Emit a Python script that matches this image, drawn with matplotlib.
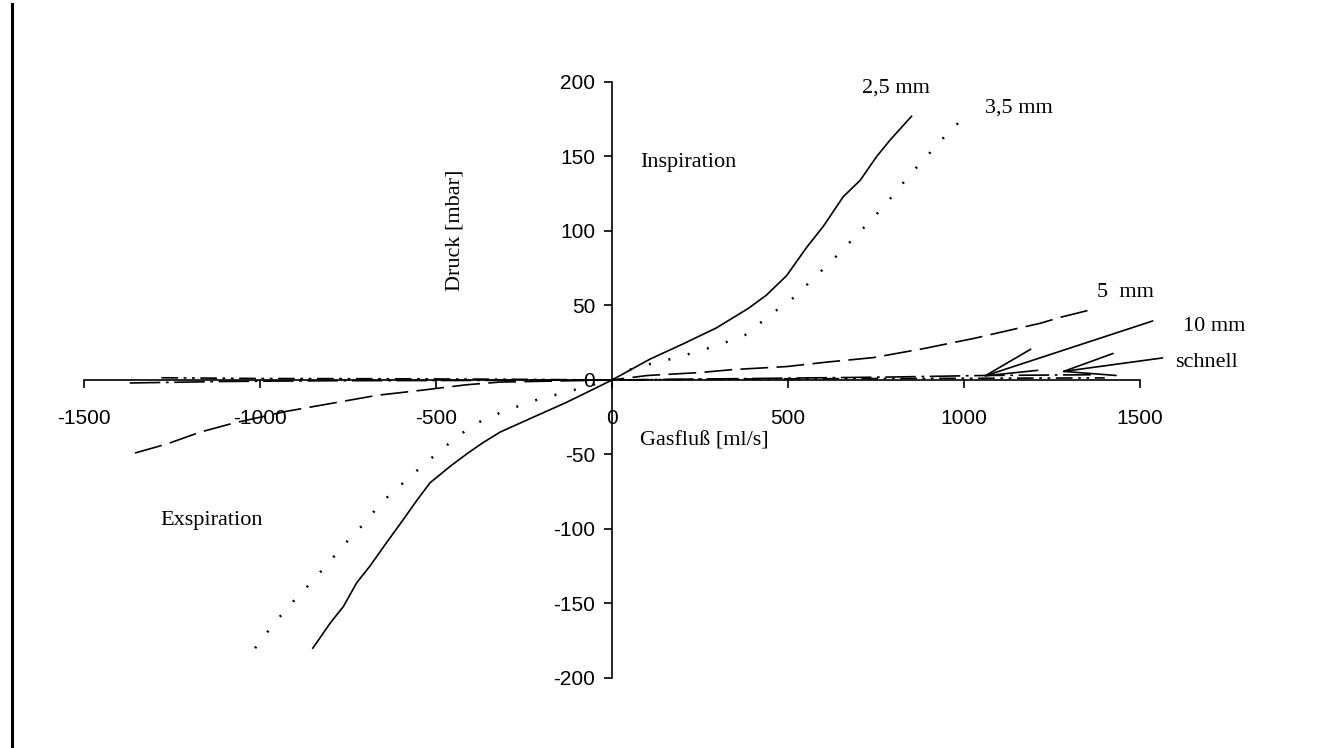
"""
Druck-Fluss-Kennlinien verschiedener Tubusdurchmesser.
"""

import matplotlib
matplotlib.use("Agg")
import matplotlib.pyplot as plt
from matplotlib.lines import Line2D

plt.rcParams['lines.scale_dashes'] = False
plt.rcParams['axes.unicode_minus'] = False

# Messreihen: Gasfluss [ml/s] gegen Druck [mbar]
flow_25 = [-850, -800, -763, -725, -688, -640, -600, -555, -517, -460, -409, -366, -318, -224, -129, -34, 0,
           108, 200, 297, 387, 439, 496, 553, 600, 657, 705, 752, 790, 851]
p_25 = [-180, -163, -152, -136, -125, -109, -96, -81, -69, -58, -49, -42, -35, -25, -15, -4, 0,
        14, 24, 35, 48, 57, 70, 89, 103, 123, 134, 150, 161, 177]

flow_35 = [-1014, -962, -915, -863, -810, -759, -707, -654, -593, -526, -460, -394, -318, -224, -129, -34, 0,
           60, 184, 297, 387, 439, 510, 572, 633, 690, 747, 795, 847, 894, 951, 1008]
p_35 = [-180, -164, -151, -138, -124, -110, -97, -82, -69, -55, -42, -30, -22, -14, -8, -2, 0,
        8, 15, 23, 31, 42, 54, 68, 82, 96, 110, 123, 138, 150, 165, 178]

flow_5 = [-1355, -1265, -1170, -1076, -924, -792, -668, -545, -413, -318, 0,
          100, 250, 345, 496, 610, 742, 884, 1030, 1159, 1216, 1273, 1358]
p_5 = [-49, -43, -35, -29, -21, -15.5, -10.3, -7, -3.2, -1.4, 0,
       3, 5, 7, 9, 12, 15, 21, 28, 35, 38, 42, 47]

flow_10 = [-1370, -1100, -800, -400, 0, 400, 800, 1050, 1360]
p_10 = [-2, -1, -0.5, -0.3, 0, 1, 2, 3, 3.5]

flow_fast = [-1280, -1000, -600, -300, 0, 400, 800, 1100, 1400]
p_fast = [1.5, 1, 0.8, 0.5, 0, 0.7, 1, 1.2, 1.4]

x_ticks = [-1500, -1000, -500, 0, 500, 1000, 1500]
x_ticklabels = ['-1500', '-1000', '-500', '0', '500', '1000', '1500']
y_ticks = [-200, -150, -100, -50, 0, 50, 100, 150, 200]
y_ticklabels = ['-200', '-150', '-100', '-50', '0', '50', '100', '150', '200']

# Beschriftungen im Diagramm: (Text, x, y)
curve_labels = [
    ('2,5 mm', 710, 196),
    ('3,5 mm', 1060, 182.5),
    ('5  mm', 1378, 59),
    ('10 mm', 1622, 36),
    ('schnell', 1599, 12),
    ('Inspiration', 80, 146),
    ('Exspiration', -1284, -94),
]

# Pfeile: Spitze, Ende
arrows = [
    ((1050, 2), (1536, 39.6)),
    ((1272, 5.4), (1564, 14.8)),
]

serif = ['Liberation Serif', 'DejaVu Serif']
sans = ['Liberation Sans', 'DejaVu Sans']

fig = plt.figure(figsize=(13.44, 7.48), dpi=100)
ax = fig.add_axes([0.0625, 0.0936, 0.7857, 0.7968])

ax.plot(flow_25, p_25, color='black', lw=1.2, ls='-')
ax.plot(flow_35, p_35, color='black', lw=1.8, ls=(0, (1.4, 13)))
ax.plot(flow_5, p_5, color='black', lw=1.2, ls=(0, (20, 6)))
ax.plot(flow_10, p_10, color='black', lw=1.2, ls=(0, (22, 4, 2, 4)))
ax.plot(flow_fast, p_fast, color='black', lw=1.2, ls=(0, (12, 4, 2, 4, 2, 4)))

ax.set_xlim(-1500, 1500)
ax.set_ylim(-200, 200)

for side in ['top', 'right']:
    ax.spines[side].set_visible(False)
ax.spines['left'].set_position(('data', 0))
ax.spines['bottom'].set_position(('data', 0))
ax.spines['left'].set_linewidth(1.2)
ax.spines['bottom'].set_linewidth(1.2)

ax.set_xticks(x_ticks)
ax.set_xticklabels(x_ticklabels, family=sans, fontsize=15)
ax.set_yticks(y_ticks)
ax.set_yticklabels(y_ticklabels, family=sans, fontsize=15)
ax.tick_params(axis='x', direction='out', length=6, width=1.2, pad=15)
ax.tick_params(axis='y', direction='out', length=6, width=1.2, pad=6)

for text, x, y in curve_labels:
    ax.text(x, y, text, family=serif, fontsize=16, ha='left', va='center')

ax.text(80, -41, 'Gasfluß [ml/s]', family=serif, fontsize=16, ha='left', va='center')
ax.text(-446, 100.7, 'Druck [mbar]', family=serif, fontsize=16, ha='center', va='center',
        rotation=90)

for tip, tail in arrows:
    ax.annotate('', xy=tip, xytext=tail, textcoords='data',
                arrowprops=dict(arrowstyle='->,head_length=3.7,head_width=0.8',
                                mutation_scale=10, color='black', lw=1.2,
                                shrinkA=0, shrinkB=0))

# senkrechter Rand links
fig.add_artist(Line2D([12 / 1344, 12 / 1344], [1 - 4 / 748, 0], lw=2.2, color='black',
                      transform=fig.transFigure))

fig.savefig('out.png', dpi=100, facecolor='white')
